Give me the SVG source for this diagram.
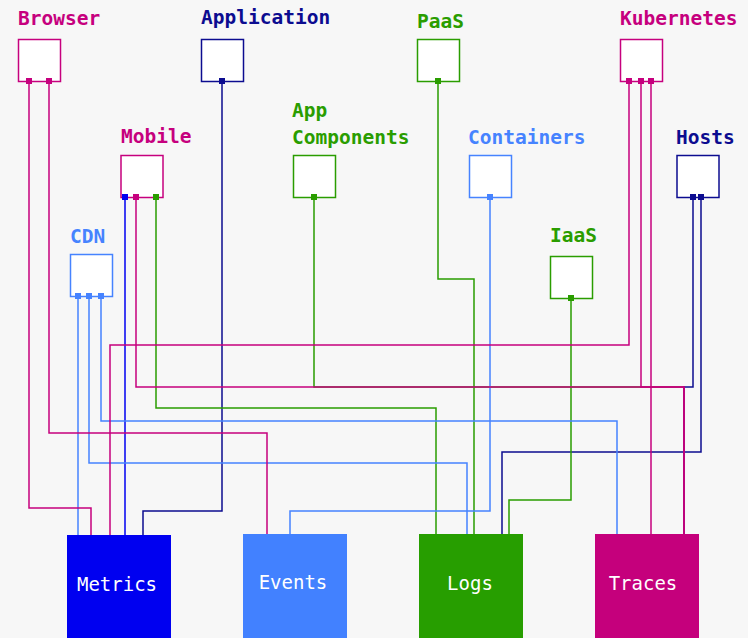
<svg xmlns="http://www.w3.org/2000/svg" width="748" height="638" viewBox="0 0 748 638">
  <style>
    .lbl { font-family: "DejaVu Sans Mono", "Liberation Mono", monospace; font-size: 19.5px; font-weight: bold; }
    .sink { font-family: "DejaVu Sans Mono", "Liberation Mono", monospace; font-size: 19px; fill: #ffffff; text-anchor: middle; }
    .box { fill: #ffffff; stroke-width: 1.5; }
    .wire { fill: none; stroke-width: 1.5; }
    .mag { color: #c6007e; }
    .navy { color: #0c0c90; }
    .blue { color: #0000f0; }
    .lblue { color: #4683ff; }
    .green { color: #2a9d00; }
  </style>
  <defs>
    <rect id="port" x="-3" y="-3" width="6" height="6" fill="currentColor"/>
  </defs>
  <rect width="748" height="638" fill="#f7f7f7"/>

  <!-- connectors -->
  <g id="connectors" class="wire">
    <path class="green" stroke="currentColor" d="M314 197.5V387H684V534"/>
    <path class="navy" stroke="currentColor" d="M693 197.5V387H684V534"/>
    <path class="navy" stroke="currentColor" d="M701 197.5V452H502V534"/>
    <path class="navy" stroke="currentColor" d="M222 81.5V511H143V535"/>
    <path class="blue" stroke="currentColor" d="M125 197.5V535"/>
    <path class="green" stroke="currentColor" d="M156 197.5V408H436V534"/>
    <path class="green" stroke="currentColor" d="M438 81.5V279H474V534"/>
    <path class="green" stroke="currentColor" d="M571 298.5V500H509V534"/>
    <path class="lblue" stroke="currentColor" d="M78 296.5V535"/>
    <path class="lblue" stroke="currentColor" d="M89 296.5V463H467V534"/>
    <path class="lblue" stroke="currentColor" d="M101 296.5V421H617V534"/>
    <path class="lblue" stroke="currentColor" d="M490 197.5V511H290V534"/>
    <path class="mag" stroke="currentColor" d="M29 81.5V508H91V535"/>
    <path class="mag" stroke="currentColor" d="M49 81.5V433H267V534"/>
    <path class="mag" stroke="currentColor" d="M629 81.5V345H110V535"/>
    <path class="mag" stroke="currentColor" d="M641 81.5V387H684V534"/>
    <path class="mag" stroke="currentColor" d="M651 81.5V534"/>
    <path class="mag" stroke="currentColor" d="M136 197.5V387H684V534"/>
  </g>

  <!-- source nodes -->
  <g id="browser" class="mag">
    <text class="lbl" x="18" y="25" fill="currentColor">Browser</text>
    <rect class="box" x="18.5" y="39.5" width="42" height="42" stroke="currentColor"/>
    <use href="#port" x="29" y="81"/>
    <use href="#port" x="49" y="81"/>
  </g>
  <g id="application" class="navy">
    <text class="lbl" x="201" y="24" fill="currentColor">Application</text>
    <rect class="box" x="201.5" y="39.5" width="42" height="42" stroke="currentColor"/>
    <use href="#port" x="222" y="81"/>
  </g>
  <g id="paas" class="green">
    <text class="lbl" x="417" y="28" fill="currentColor">PaaS</text>
    <rect class="box" x="417.5" y="39.5" width="42" height="42" stroke="currentColor"/>
    <use href="#port" x="438" y="81"/>
  </g>
  <g id="kubernetes" class="mag">
    <text class="lbl" x="620" y="25" fill="currentColor">Kubernetes</text>
    <rect class="box" x="620.5" y="39.5" width="42" height="42" stroke="currentColor"/>
    <use href="#port" x="629" y="81"/>
    <use href="#port" x="641" y="81"/>
    <use href="#port" x="651" y="81"/>
  </g>
  <g id="mobile" class="mag">
    <text class="lbl" x="121" y="143" fill="currentColor">Mobile</text>
    <rect class="box" x="121" y="155.5" width="42" height="42" stroke="currentColor"/>
    <use href="#port" x="125" y="197" class="blue" fill="currentColor"/>
    <use href="#port" x="136" y="197"/>
    <use href="#port" x="156" y="197" class="green"/>
  </g>
  <g id="app-components" class="green">
    <text class="lbl" x="292" y="117" fill="currentColor">App</text>
    <text class="lbl" x="292" y="144" fill="currentColor">Components</text>
    <rect class="box" x="293.5" y="155.5" width="42" height="42" stroke="currentColor"/>
    <use href="#port" x="314" y="197"/>
  </g>
  <g id="containers" class="lblue">
    <text class="lbl" x="468" y="144" fill="currentColor">Containers</text>
    <rect class="box" x="469.5" y="155.5" width="42" height="42" stroke="currentColor"/>
    <use href="#port" x="490" y="197"/>
  </g>
  <g id="hosts" class="navy">
    <text class="lbl" x="676" y="144" fill="currentColor">Hosts</text>
    <rect class="box" x="677" y="155.5" width="42" height="42" stroke="currentColor"/>
    <use href="#port" x="693" y="197"/>
    <use href="#port" x="701" y="197"/>
  </g>
  <g id="cdn" class="lblue">
    <text class="lbl" x="70" y="243" fill="currentColor">CDN</text>
    <rect class="box" x="70.5" y="254.5" width="42" height="42" stroke="currentColor"/>
    <use href="#port" x="78" y="296"/>
    <use href="#port" x="89" y="296"/>
    <use href="#port" x="101" y="296"/>
  </g>
  <g id="iaas" class="green">
    <text class="lbl" x="550" y="242" fill="currentColor">IaaS</text>
    <rect class="box" x="550.5" y="256.5" width="42" height="42" stroke="currentColor"/>
    <use href="#port" x="571" y="298"/>
  </g>

  <!-- sink nodes -->
  <g id="metrics">
    <rect x="67" y="535" width="104" height="104" fill="#0000f0"/>
    <text class="sink" x="117" y="591">Metrics</text>
  </g>
  <g id="events">
    <rect x="243" y="534" width="104" height="104" fill="#4281ff"/>
    <text class="sink" x="293" y="589">Events</text>
  </g>
  <g id="logs">
    <rect x="419" y="534" width="104" height="104" fill="#279e00"/>
    <text class="sink" x="470" y="590">Logs</text>
  </g>
  <g id="traces">
    <rect x="595" y="534" width="104" height="104" fill="#c5007c"/>
    <text class="sink" x="643" y="590">Traces</text>
  </g>
</svg>
